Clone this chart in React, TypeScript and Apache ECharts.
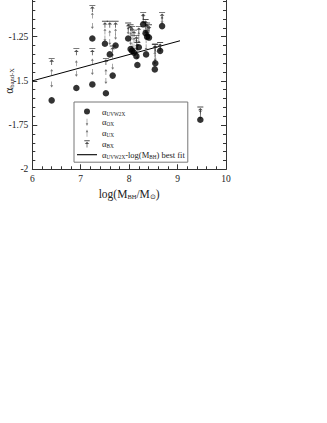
import React, { useEffect, useRef } from "react";
import * as echarts from "echarts";

// log(M_BH/M_sun) of each source
const mass = [6.40, 6.91, 7.24, 7.24, 7.50, 7.52, 7.60, 7.66, 7.72, 7.98, 8.03, 8.06, 8.10, 8.15, 8.17, 8.20, 8.29, 8.34, 8.37, 8.41, 8.35, 8.54, 8.53, 8.64, 8.68, 9.47];
const alphaUVW2X = [-1.61, -1.54, -1.26, -1.52, -1.29, -1.57, -1.35, -1.47, -1.30, -1.26, -1.32, -1.33, -1.34, -1.36, -1.41, -1.31, -1.18, -1.23, -1.25, -1.255, -1.35, -1.40, -1.435, -1.33, -1.19, -1.72];
const alphaOX = [-1.52, -1.46, -1.19, -1.45, -1.26, -1.50, -1.28, -1.42, -1.25, -1.22, -1.28, -1.30, -1.31, -1.31, -1.36, -1.27, -1.16, -1.21, -1.22, -1.23, -1.31, -1.37, -1.39, -1.32, -1.16, -1.70];
const alphaUX = [-1.45, -1.40, -1.13, -1.39, -1.22, -1.45, -1.23, -1.36, -1.22, -1.21, -1.24, -1.25, -1.27, -1.28, -1.33, -1.24, -1.14, -1.19, -1.20, -1.21, -1.27, -1.34, -1.35, -1.31, -1.15, -1.68];
const alphaBX = [-1.39, -1.335, -1.09, -1.335, -1.18, -1.39, -1.18, -1.32, -1.18, -1.19, -1.20, -1.21, -1.23, -1.26, -1.30, -1.21, -1.13, -1.17, -1.19, -1.20, -1.23, -1.31, -1.31, -1.30, -1.13, -1.665];
// best-fit line alpha_UVW2X vs log(M_BH)
const fitX = [6.0, 9.05];
const fitY = [-1.50, -1.273];
const xTicks = [6, 7, 8, 9, 10];
const yTicks = [-2, -1.75, -1.5, -1.25, -1];

const names = ["UVW2X", "OX", "UX", "BX", "FIT"];

const ARROW_DOWN = "path://M0.7,0 L1.3,0 L1.3,5 L2.4,5 L1,8 L-0.4,5 L0.7,5 Z";
const ARROW_UP = "path://M1,0 L2.4,3 L1.3,3 L1.3,8 L0.7,8 L0.7,3 L-0.4,3 Z";
const BX_SYM = "path://M0,0 L6,0 L6,1 L0,1 Z M3,1.6 L5.4,4.2 L3.4,4.2 L3.4,8 L2.6,8 L2.6,4.2 L0.6,4.2 Z";
// legend icons: zero-length moves widen the bounding box so the glyph is drawn smaller
const LEG_CIRCLE = "path://M0,0 Z M9,9 Z M4.5,1.5 A3,3 0 1,1 4.5,7.5 A3,3 0 1,1 4.5,1.5 Z";
const LEG_DOWN = "path://M-3,-1 Z M5,9 Z M0.7,0 L1.3,0 L1.3,5 L2.4,5 L1,8 L-0.4,5 L0.7,5 Z";
const LEG_UP = "path://M-3,-1 Z M5,9 Z M1,0 L2.4,3 L1.3,3 L1.3,8 L0.7,8 L0.7,3 L-0.4,3 Z";
const LEG_BX = "path://M-1,-1 Z M7,9 Z M0,0 L6,0 L6,1 L0,1 Z M3,1.6 L5.4,4.2 L3.4,4.2 L3.4,8 L2.6,8 L2.6,4.2 L0.6,4.2 Z";
const LINE_ICON = "path://M0,0 L20,0 L20,1.1 L0,1.1 Z";

const FONT = "Liberation Serif";

export default function App() {
  const ref = useRef<HTMLDivElement>(null);
  useEffect(() => {
    if (!ref.current) return;
    const chart = echarts.init(ref.current, null, { renderer: "svg" });
    const pts = (ys: number[]) => mass.map((m, i) => [m, ys[i]]);
    const rich = {
      s: { fontFamily: FONT, fontSize: 5.2, color: "#222", padding: [4, 0, 0, 0] },
      t: { fontFamily: FONT, fontSize: 8.5, color: "#222" },
    };
    const legendLabels: Record<string, string> = {
      UVW2X: "{t|α}{s|UVW2X}",
      OX: "{t|α}{s|OX}",
      UX: "{t|α}{s|UX}",
      BX: "{t|α}{s|BX}",
      FIT: "{t|α}{s|UVW2X}{t|-log(M}{s|BH}{t|) best fit}",
    };
    const legendIcons: Record<string, string> = {
      UVW2X: LEG_CIRCLE,
      OX: LEG_DOWN,
      UX: LEG_UP,
      BX: LEG_BX,
      FIT: LINE_ICON,
    };
    const axisCommon = {
      type: "value" as const,
      axisLine: { show: true, lineStyle: { color: "#333", width: 1 } },
      axisTick: { show: true, inside: true, length: 5, lineStyle: { color: "#333" } },
      minorTick: { show: true, splitNumber: 5, length: 3, lineStyle: { color: "#333" } },
      splitLine: { show: false },
      minorSplitLine: { show: false },
    };
    chart.setOption({
      animation: false,
      backgroundColor: "#fff",
      grid: { left: 32.3, right: 101, top: -7.5, bottom: 253.7, containLabel: false, outerBoundsMode: "none" },
      xAxis: [
        {
          ...axisCommon,
          min: xTicks[0],
          max: xTicks[xTicks.length - 1],
          interval: 1,
          position: "bottom",
          axisLabel: { fontFamily: FONT, fontSize: 9.5, color: "#222", margin: 5 },
          name: "log(M{s|BH}/M{s|⊙})",
          nameLocation: "middle",
          nameGap: 19,
          nameMoveOverlap: false,
          nameTextStyle: { fontFamily: FONT, fontSize: 11.5, color: "#222", rich: { s: { fontFamily: FONT, fontSize: 6.5, color: "#222", padding: [5, 0, 0, 0] } } },
        },
      ],
      yAxis: [
        {
          ...axisCommon,
          min: yTicks[0],
          max: yTicks[yTicks.length - 1],
          interval: 0.25,
          position: "left",
          axisLabel: {
            fontFamily: FONT,
            fontSize: 9.5,
            color: "#222",
            margin: 4,
            formatter: (v: number) => (v === -1 ? "" : String(v)),
          },
          name: "α{s|band-X}",
          nameLocation: "middle",
          nameRotate: 90,
          nameGap: 17,
          nameMoveOverlap: false,
          nameTextStyle: { fontFamily: FONT, fontSize: 11.5, color: "#222", rich: { s: { fontFamily: FONT, fontSize: 6.5, color: "#222", padding: [5, 0, 0, 0] } } },
        },
        {
          ...axisCommon,
          min: yTicks[0],
          max: yTicks[yTicks.length - 1],
          interval: 0.25,
          position: "right",
          axisLabel: { show: false },
        },
      ],
      legend: {
        orient: "vertical",
        left: 74,
        top: 102,
        padding: [5, 3, 3, 3],
        itemGap: 1.8,
        itemWidth: 20,
        itemHeight: 9,
        borderColor: "#777",
        borderWidth: 1,
        data: names.map((n) => ({ name: n, icon: legendIcons[n] })),
        formatter: (n: string) => legendLabels[n],
        textStyle: { fontFamily: FONT, fontSize: 8.5, color: "#222", rich },
      },
      series: [
        {
          name: "UVW2X",
          type: "scatter",
          data: pts(alphaUVW2X),
          symbol: "circle",
          symbolSize: 6.5,
          itemStyle: { color: "#000" },
          z: 5,
        },
        {
          name: "OX",
          type: "scatter",
          data: pts(alphaOX),
          symbol: ARROW_DOWN,
          symbolSize: [3, 6],
          itemStyle: { color: "#555" },
          z: 3,
        },
        {
          name: "UX",
          type: "scatter",
          data: pts(alphaUX),
          symbol: ARROW_UP,
          symbolSize: [3, 6],
          itemStyle: { color: "#555" },
          z: 3,
        },
        {
          name: "BX",
          type: "scatter",
          data: pts(alphaBX),
          symbol: BX_SYM,
          symbolSize: [6, 7],
          itemStyle: { color: "#222" },
          z: 4,
        },
        {
          name: "FIT",
          type: "line",
          data: fitX.map((x, i) => [x, fitY[i]]),
          showSymbol: false,
          symbol: "none",
          lineStyle: { color: "#000", width: 1 },
          itemStyle: { color: "#000" },
          z: 2,
        },
      ],
    });
    return () => chart.dispose();
  }, []);
  return (
    <div
      ref={ref}
      style={{ position: "fixed", left: 0, top: 0, width: 327, height: 423, background: "#fff" }}
    />
  );
}
